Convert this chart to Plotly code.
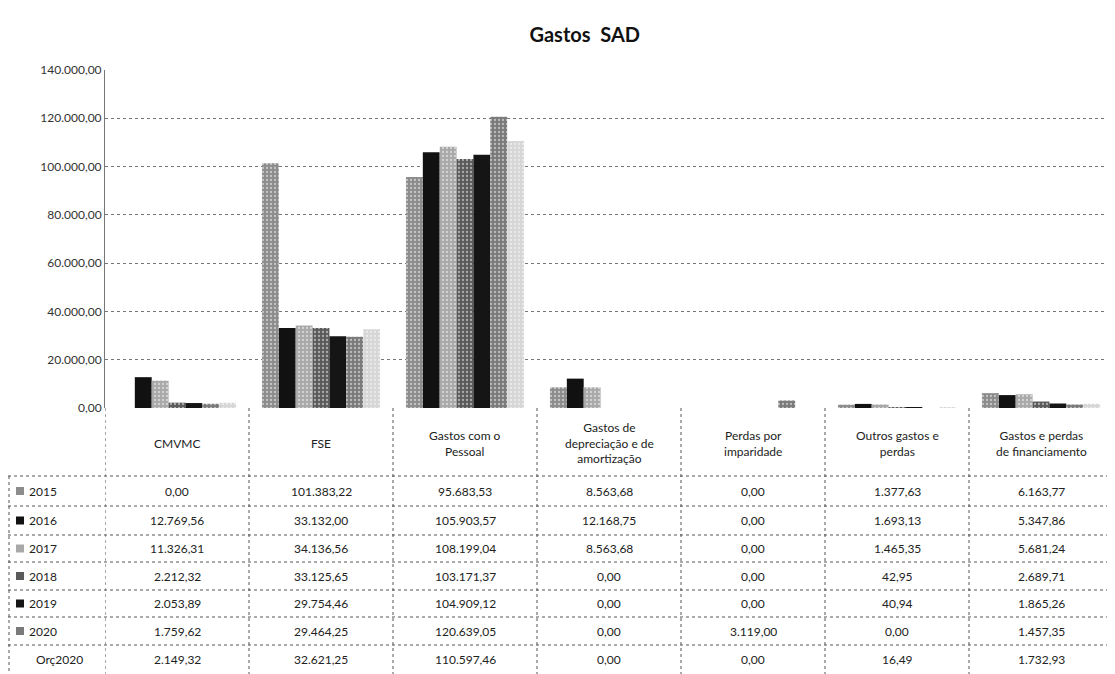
import plotly.graph_objects as go

# ---------------- data ----------------
categories = ["CMVMC", "FSE", "Gastos com o Pessoal", "Gastos de depreciação e de amortização",
              "Perdas por imparidade", "Outros gastos e perdas", "Gastos e perdas de financiamento"]
header_labels = ["CMVMC", "FSE", "Gastos com o<br>Pessoal", "Gastos de<br>depreciação e de<br>amortização",
                 "Perdas por<br>imparidade", "Outros gastos e<br>perdas", "Gastos e perdas<br>de financiamento"]
series_names = ["2015", "2016", "2017", "2018", "2019", "2020", "Orç2020"]

v2015 = [0.00, 101383.22, 95683.53, 8563.68, 0.00, 1377.63, 6163.77]
v2016 = [12769.56, 33132.00, 105903.57, 12168.75, 0.00, 1693.13, 5347.86]
v2017 = [11326.31, 34136.56, 108199.04, 8563.68, 0.00, 1465.35, 5681.24]
v2018 = [2212.32, 33125.65, 103171.37, 0.00, 0.00, 42.95, 2689.71]
v2019 = [2053.89, 29754.46, 104909.12, 0.00, 0.00, 40.94, 1865.26]
v2020 = [1759.62, 29464.25, 120639.05, 0.00, 3119.00, 0.00, 1457.35]
vorc2020 = [2149.32, 32621.25, 110597.46, 0.00, 0.00, 16.49, 1732.93]
series_values = [v2015, v2016, v2017, v2018, v2019, v2020, vorc2020]

tick_vals = [0, 20000, 40000, 60000, 80000, 100000, 120000, 140000]
tick_text = ["0,00", "20.000,00", "40.000,00", "60.000,00", "80.000,00", "100.000,00", "120.000,00", "140.000,00"]

# ---------------- styles ----------------
colors = ["#8c8c8c", "#111111", "#a8a8a8", "#5a5a5a", "#151515", "#7a7a7a", "#d6d6d6"]
patterns = [".", "", ".", ".", "", ".", "."]
FONT = "Lato, 'Open Sans', sans-serif"
OFF = 8  # page body margin
W, H = 1107, 666
L, R, T, B = 97, 2, 62, 266
PW, PH = W - L - R, H - T - B
BOTTOM = OFF + H - B  # screen pixel of plot bottom


def fmt(v):
    s = f"{v:,.2f}"
    return s.replace(",", "X").replace(".", ",").replace("X", ".")


def py(p):  # screen pixel y -> paper y
    return (BOTTOM - p) / PH


def px(p):  # screen pixel x -> paper x
    return (p - OFF - L) / PW


fig = go.Figure()
for name, vals, c, pat in zip(series_names, series_values, colors, patterns):
    marker = dict(color=c, line=dict(width=0))
    if pat:
        marker["pattern"] = dict(shape=pat, fgcolor="#ffffff", bgcolor=c, size=4, solidity=0.25,
                                 fillmode="overlay")
    fig.add_trace(go.Bar(x=list(range(len(categories))), y=vals, name=name, marker=marker,
                         showlegend=False))

shapes = []
annotations = []

row_bounds = [408, 476, 506, 535, 562, 590, 617, 645, 676]
line_style = dict(color="#555555", width=1, dash="dot")

for rb in row_bounds[1:-1]:
    shapes.append(dict(type="line", xref="paper", yref="paper", x0=px(8), x1=1.0,
                       y0=py(rb), y1=py(rb), line=line_style))
for k in range(len(categories)):
    shapes.append(dict(type="line", xref="x", yref="paper", x0=k - 0.5, x1=k - 0.5,
                       y0=0, y1=py(676), line=line_style))
shapes.append(dict(type="line", xref="paper", yref="paper", x0=px(9), x1=px(9),
                   y0=py(476), y1=py(676), line=line_style))

for k, lab in enumerate(header_labels):
    annotations.append(dict(x=k, y=py(443), xref="x", yref="paper", text=lab, showarrow=False,
                            font=dict(family=FONT, size=12, color="#222222"), align="center",
                            xanchor="center", yanchor="middle"))

for r, (name, vals, c) in enumerate(zip(series_names, series_values, colors)):
    yc = (row_bounds[r + 1] + row_bounds[r + 2]) / 2
    if r == len(series_names) - 1:
        yc = 659
    for k, v in enumerate(vals):
        annotations.append(dict(x=k, y=py(yc), xref="x", yref="paper", text=fmt(v), showarrow=False,
                                font=dict(family=FONT, size=12, color="#222222"),
                                xanchor="center", yanchor="middle"))
    if name != "Orç2020":
        shapes.append(dict(type="rect", xref="paper", yref="paper", x0=px(16), x1=px(24),
                           y0=py(yc + 4), y1=py(yc - 4), fillcolor=c, line=dict(width=0)))
        annotations.append(dict(x=px(27), y=py(yc), xref="paper", yref="paper", text=name,
                                showarrow=False, font=dict(family=FONT, size=12, color="#222222"),
                                xanchor="left", yanchor="middle"))
    else:
        annotations.append(dict(x=px(34), y=py(yc), xref="paper", yref="paper", text=name,
                                showarrow=False, font=dict(family=FONT, size=12, color="#222222"),
                                xanchor="left", yanchor="middle"))

fig.update_layout(
    width=W, height=H,
    margin=dict(l=L, r=R, t=T, b=B, autoexpand=False),
    paper_bgcolor="white", plot_bgcolor="white",
    barmode="group", bargap=0.18, bargroupgap=0,
    title=dict(text="<b>Gastos  SAD</b>", x=0.521, xanchor="center", y=(H - 27) / H, yanchor="middle",
               font=dict(family=FONT, size=20, color="#111111")),
    xaxis=dict(range=[-0.5, len(categories) - 0.5], showticklabels=False, showgrid=False,
               zeroline=False, showline=False, ticks=""),
    yaxis=dict(range=[0, 140000], tickvals=tick_vals, ticktext=tick_text, showgrid=True,
               gridcolor="#777777", griddash="dot", gridwidth=1, zeroline=False,
               showline=True, linecolor="#777777", linewidth=1,
               tickfont=dict(family=FONT, size=12, color="#333333"), ticks=""),
    shapes=shapes, annotations=annotations,
)

fig.write_html("out.html")
